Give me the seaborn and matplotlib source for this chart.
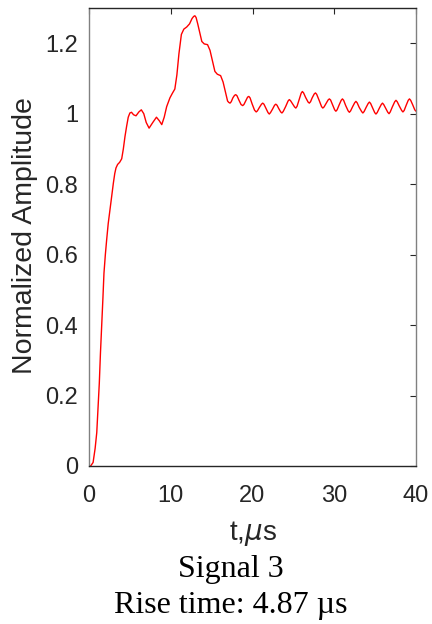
"""Step response style plot: normalized amplitude vs time (Signal 3)"""
import matplotlib
matplotlib.use("Agg")
import matplotlib.pyplot as plt
import seaborn as sns

# time in microseconds
t_us = [0.0, 0.2, 0.5, 0.75, 0.95, 1.1, 1.26, 1.4, 1.55, 1.7, 1.83, 2.0, 2.16, 2.35,
        2.57, 2.8, 2.98, 3.15, 3.3, 3.5, 3.75, 4.0, 4.2, 4.4, 4.6, 4.8, 5.0, 5.2,
        5.45, 5.75, 6.1, 6.4, 6.7, 7.0, 7.35, 7.8, 8.25, 8.6, 8.9, 9.2, 9.5, 9.9,
        10.2, 10.5, 10.75, 11.0, 11.3, 11.6, 11.95, 12.3, 12.6, 12.8, 12.95, 13.1,
        13.3, 13.5, 13.8, 14.1, 14.5, 14.8, 15.1, 15.4, 15.7, 16.1, 16.4, 16.7, 16.95,
        17.1, 17.25, 17.4, 17.6, 17.8, 17.95, 18.1, 18.35, 18.6, 18.8, 18.95, 19.2,
        19.4, 19.55, 19.7, 19.95, 20.25, 20.45, 20.6, 20.85, 21.1, 21.25, 21.4, 21.65,
        21.9, 22.05, 22.2, 22.45, 22.7, 22.85, 23.0, 23.2, 23.45, 23.6, 23.75, 24.05,
        24.35, 24.5, 24.65, 24.9, 25.15, 25.3, 25.45, 25.7, 25.95, 26.1, 26.25, 26.5,
        26.8, 26.95, 27.1, 27.3, 27.55, 27.7, 27.85, 28.15, 28.45, 28.6, 28.75, 29.0,
        29.25, 29.4, 29.55, 29.8, 30.05, 30.2, 30.35, 30.6, 30.85, 31.0, 31.15, 31.4,
        31.7, 31.85, 32.0, 32.25, 32.5, 32.65, 32.8, 33.05, 33.35, 33.5, 33.65, 33.9,
        34.15, 34.3, 34.45, 34.7, 34.95, 35.1, 35.25, 35.5, 35.75, 35.9, 36.05, 36.3,
        36.55, 36.7, 36.85, 37.1, 37.4, 37.55, 37.7, 37.95, 38.25, 38.4, 38.55, 38.8,
        39.05, 39.2, 39.35, 39.6, 39.85, 40.0]

amplitude = [0.0, 0.0, 0.01, 0.05, 0.095, 0.16, 0.235, 0.32, 0.396, 0.475, 0.547, 0.6,
             0.642, 0.688, 0.727, 0.77, 0.803, 0.83, 0.846, 0.856, 0.862, 0.872, 0.9,
             0.935, 0.964, 0.99, 1.002, 1.004, 0.997, 0.994, 1.005, 1.011, 1.0, 0.975,
             0.959, 0.975, 0.99, 0.98, 0.969, 0.99, 1.02, 1.045, 1.058, 1.07, 1.11,
             1.17, 1.225, 1.24, 1.246, 1.255, 1.27, 1.276, 1.278, 1.273, 1.255, 1.235,
             1.205, 1.198, 1.196, 1.18, 1.15, 1.12, 1.112, 1.108, 1.09, 1.06, 1.036,
             1.032, 1.03, 1.034, 1.045, 1.052, 1.054, 1.051, 1.038, 1.026, 1.023, 1.026,
             1.038, 1.047, 1.049, 1.045, 1.028, 1.01, 1.005, 1.008, 1.018, 1.027, 1.03,
             1.027, 1.015, 1.003, 0.999, 1.003, 1.013, 1.024, 1.027, 1.024, 1.015, 1.005,
             1.002, 1.006, 1.02, 1.036, 1.04, 1.037, 1.028, 1.019, 1.016, 1.021, 1.04,
             1.058, 1.063, 1.059, 1.046, 1.033, 1.03, 1.034, 1.045, 1.056, 1.059, 1.055,
             1.038, 1.02, 1.016, 1.019, 1.029, 1.039, 1.042, 1.039, 1.025, 1.011, 1.007,
             1.011, 1.025, 1.038, 1.042, 1.038, 1.023, 1.008, 1.004, 1.008, 1.02, 1.031,
             1.035, 1.031, 1.018, 1.006, 1.002, 1.006, 1.018, 1.029, 1.033, 1.029, 1.016,
             1.003, 0.999, 1.003, 1.015, 1.026, 1.03, 1.026, 1.015, 1.004, 1.0, 1.005,
             1.019, 1.034, 1.038, 1.034, 1.022, 1.009, 1.005, 1.009, 1.024, 1.038, 1.042,
             1.038, 1.025, 1.011, 1.007]

assert len(t_us) == len(amplitude), (len(t_us), len(amplitude))

x_ticks = [0, 10, 20, 30, 40]
y_ticks = [0, 0.2, 0.4, 0.6, 0.8, 1.0, 1.2]
y_tick_labels = ["0", "0.2", "0.4", "0.6", "0.8", "1", "1.2"]

signal_name = "Signal 3"
rise_time = "Rise time: 4.87 \u00b5s"

sns.set_theme(style="white")
plt.rcParams['font.family'] = ['Liberation Sans', 'DejaVu Sans']

fig = plt.figure(figsize=(4.32, 6.24), dpi=100)
ax = fig.add_axes([89 / 432, 1 - 466 / 624, 327 / 432, 458 / 624])

sns.lineplot(x=t_us, y=amplitude, color='red', linewidth=1.0, ax=ax)

ax.set_xlim(0, 40)
ax.set_ylim(0, 1.3)
ax.set_xticks(x_ticks)
ax.set_yticks(y_ticks)
ax.set_yticklabels(y_tick_labels)
ax.tick_params(direction='in', top=True, right=True, length=4, width=0.8,
               colors='#262626', labelsize=17)
ax.tick_params(axis='x', pad=14)
ax.tick_params(axis='y', pad=8)

# MATLAB-like box
for side in ['top', 'bottom']:
    ax.spines[side].set_color('#262626')
for side in ['left', 'right']:
    ax.spines[side].set_color('#808080')
for sp in ax.spines.values():
    sp.set_linewidth(1.0)

ax.set_xlabel("")
ax.set_ylabel("")
fig.text(252.5 / 432, 1 - 540 / 624, "t,$\\mu$s", ha='center', va='baseline',
         fontsize=20, color='#262626')
fig.text(25 / 432, 1 - 236 / 624, "Normalized Amplitude", rotation=90,
         ha='center', va='center', fontsize=20.5, color='#262626')

fig.text(231 / 432, 1 - 577 / 624, signal_name, ha='center', va='baseline',
         fontsize=23, family='Liberation Serif', color='black')
fig.text(231 / 432, 1 - 613 / 624, rise_time, ha='center', va='baseline',
         fontsize=23, family='Liberation Serif', color='black')

fig.savefig("out.png", dpi=100)
